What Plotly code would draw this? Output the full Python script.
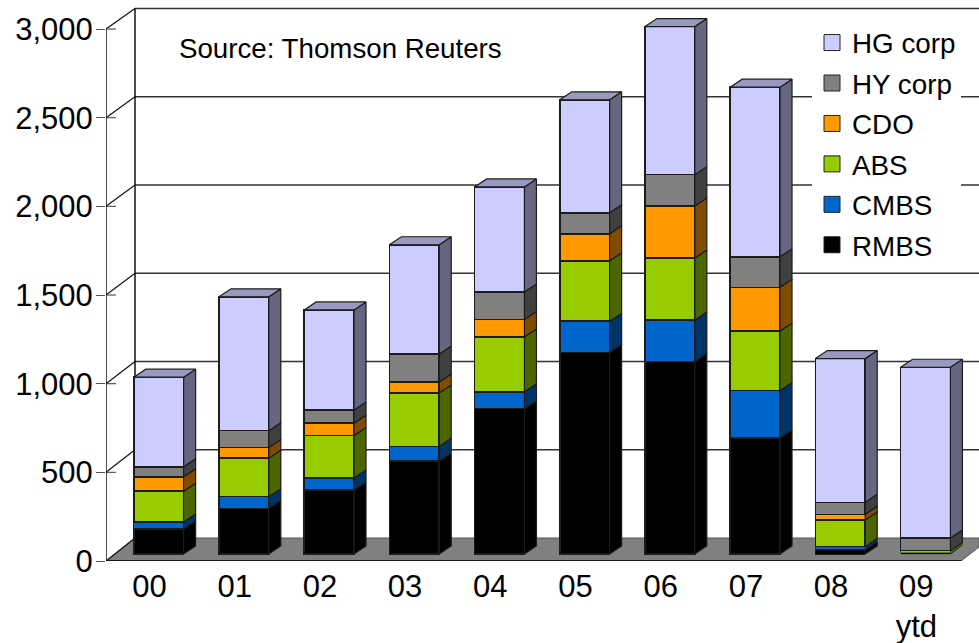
import plotly.graph_objects as go

years = ["00", "01", "02", "03", "04", "05", "06", "07", "08", "09<br>ytd"]
rmbs = [142, 259, 363, 527, 823, 1141, 1090, 657, 27, 5]
cmbs = [40, 66, 68, 83, 96, 178, 236, 270, 15, 2]
abs_ = [174, 218, 240, 302, 310, 342, 351, 336, 151, 12]
cdo = [81, 60, 70, 62, 100, 153, 295, 248, 32, 0]
hy_corp = [57, 96, 75, 159, 156, 119, 177, 173, 68, 72]
hg_corp = [508, 758, 567, 619, 595, 640, 839, 961, 814, 967]
y_ticks = [0, 500, 1000, 1500, 2000, 2500, 3000]

series = [
    ("RMBS", rmbs, "#000000", "#000000"),
    ("CMBS", cmbs, "#0066CC", "#003366"),
    ("ABS", abs_, "#99CC00", "#4C6600"),
    ("CDO", cdo, "#FF9900", "#804C00"),
    ("HY corp", hy_corp, "#808080", "#404040"),
    ("HG corp", hg_corp, "#CCCCFF", "#666680"),
]
TOP_COLOR = "#9999BF"
EDGE = "#1c1c1c"

# page geometry of the pseudo-3D projection
W, H = 979, 643
L, B = 106, 82
PLOT_H = H - B
CAT = 85.2
FRONT_K = 0.17733   # px per unit at the axis plane
BAR_K = 0.1765      # px per unit at the bar and wall planes
LABEL0, BAR0 = 149.5, 158.7
BAR_W = 0.585
BAR_FLOOR_UP, WALL_UP, WALL_DX = 7, 23, 29
DX, DY = 12 / CAT, 8 / BAR_K


def xr(c0):
    return [(L - c0) / CAT, (W - c0) / CAT]


def x_at(px):  # page px -> x data
    return (px - LABEL0) / CAT


def edge_w(v, full):  # thin segments get thinner outlines so the fill stays visible
    return min(full, v * BAR_K * 0.2)


y_range = [0, PLOT_H / FRONT_K]
y2_range = [-BAR_FLOOR_UP / BAR_K, (PLOT_H - BAR_FLOOR_UP) / BAR_K]


def back_y(v):  # value on back wall, expressed on the front y axis
    return (WALL_UP + BAR_K * v) / FRONT_K


fig = go.Figure()

# legend entries
for name, vals, col, side in reversed(series):
    fig.add_trace(go.Scatter(
        x=[None], y=[None], mode="markers", name=name, legendgroup=name,
        marker=dict(symbol="square", size=16, color=col, line=dict(color="#222222", width=1)),
        hoverinfo="skip"))

# front faces
for name, vals, col, side in series:
    fig.add_trace(go.Bar(
        x=list(range(len(years))), y=vals, width=BAR_W, name=name, showlegend=False,
        xaxis="x2", yaxis="y2",
        marker=dict(color=col, line=dict(color=EDGE, width=[edge_w(v, 1.5) for v in vals]))))

# side faces
n = len(years)
bottoms = [0] * n
for name, vals, col, side in series:
    xs, ys, txs, tys = [], [], [], []
    for i in range(n):
        a, b = bottoms[i], bottoms[i] + vals[i]
        r = i + BAR_W / 2
        poly_x = [r, r + DX, r + DX, r, r, None]
        poly_y = [a, a + DY, b + DY, b, a, None]
        if vals[i] * BAR_K >= 3:
            xs += poly_x
            ys += poly_y
        elif vals[i] > 0:  # very thin segments: no outline
            txs += poly_x
            tys += poly_y
        bottoms[i] = b
    fig.add_trace(go.Scatter(
        x=xs, y=ys, mode="lines", fill="toself", fillcolor=side, showlegend=False,
        xaxis="x2", yaxis="y2", line=dict(color=EDGE, width=1.2), hoverinfo="skip"))
    if txs:
        fig.add_trace(go.Scatter(
            x=txs, y=tys, mode="lines", fill="toself", fillcolor=side, showlegend=False,
            xaxis="x2", yaxis="y2", line=dict(color=side, width=0.5), hoverinfo="skip"))

# top faces
xs, ys = [], []
for i in range(n):
    l, r, t = i - BAR_W / 2, i + BAR_W / 2, bottoms[i]
    xs += [l, l + DX, r + DX, r, l, None]
    ys += [t, t + DY, t + DY, t, t, None]
fig.add_trace(go.Scatter(
    x=xs, y=ys, mode="lines", fill="toself", fillcolor=TOP_COLOR, showlegend=False,
    xaxis="x2", yaxis="y2", line=dict(color=EDGE, width=1.2), hoverinfo="skip"))

# walls, floor and grid
shapes = []
xl, xb, xe = x_at(L), x_at(L + WALL_DX), x_at(W)
floor_right = x_at(961)
floor_end_y = (561 - 547) / FRONT_K
shapes.append(dict(type="path", layer="below", xref="x", yref="y",
                   path=f"M{xl},0 L{xb},{back_y(0)} L{xe},{back_y(0)} L{xe},{floor_end_y} L{floor_right},0 Z",
                   fillcolor="#808080", line=dict(color="#555555", width=1)))
for v in y_ticks:
    if v:
        shapes.append(dict(type="line", layer="below", xref="x", yref="y", x0=xb, x1=xe,
                           y0=back_y(v), y1=back_y(v), line=dict(color="#333333", width=1.3)))
    shapes.append(dict(type="line", layer="below", xref="x", yref="y", x0=xl, x1=xb,
                       y0=v, y1=back_y(v), line=dict(color="#111111", width=1.2)))
    shapes.append(dict(type="line", layer="below", xref="x", yref="y", x0=xl, x1=x_at(L + 10),
                       y0=v, y1=v, line=dict(color="#555555", width=1.2)))
shapes.append(dict(type="line", layer="below", xref="x", yref="y", x0=xl, x1=xl, y0=0, y1=3000,
                   line=dict(color="#000000", width=1.4)))
shapes.append(dict(type="line", layer="below", xref="x", yref="y", x0=xb, x1=xb, y0=back_y(0), y1=back_y(3000),
                   line=dict(color="#000000", width=1.4)))
shapes.append(dict(type="line", layer="below", xref="x", yref="y", x0=xl, x1=floor_right, y0=0, y1=0,
                   line=dict(color="#000000", width=1.4)))

font = "Liberation Sans, Arial, sans-serif"
fig.update_layout(
    width=W, height=H, margin=dict(l=L, r=0, t=0, b=B, pad=0),
    paper_bgcolor="white", plot_bgcolor="rgba(0,0,0,0)",
    barmode="stack", shapes=shapes, font=dict(family=font, color="#000000", size=31),
    xaxis=dict(range=xr(LABEL0), tickmode="array", tickvals=list(range(n)), ticktext=years,
               showgrid=False, zeroline=False, showline=False, ticks="",
               tickfont=dict(size=31), automargin=False, ticklabelstandoff=4),
    yaxis=dict(range=y_range, tickmode="array", tickvals=y_ticks, tickformat=",d",
               showgrid=False, zeroline=False, showline=False, ticks="outside", ticklen=9,
               tickwidth=1.2, tickcolor="#555555", tickfont=dict(size=31), automargin=False,
               ticklabelstandoff=-3),
    xaxis2=dict(range=xr(BAR0), overlaying="x", visible=False),
    yaxis2=dict(range=y2_range, overlaying="y", visible=False),
    legend=dict(x=(812 - L) / (W - L), xanchor="left", y=1 - 18 / PLOT_H, yanchor="top",
                bgcolor="white", borderwidth=0, font=dict(size=27.8), traceorder="grouped",
                tracegroupgap=1.3, entrywidth=125, entrywidthmode="pixels"),
    annotations=[dict(text="Source: Thomson Reuters", xref="x", yref="y", x=x_at(179),
                      y=(561 - 48) / FRONT_K, xanchor="left", yanchor="middle",
                      showarrow=False, font=dict(size=27.7), xshift=-2)],
)
fig.write_html("out.html", config=dict(displayModeBar=False),
               post_script="document.body.style.margin='0';document.documentElement.style.overflow='hidden';")
